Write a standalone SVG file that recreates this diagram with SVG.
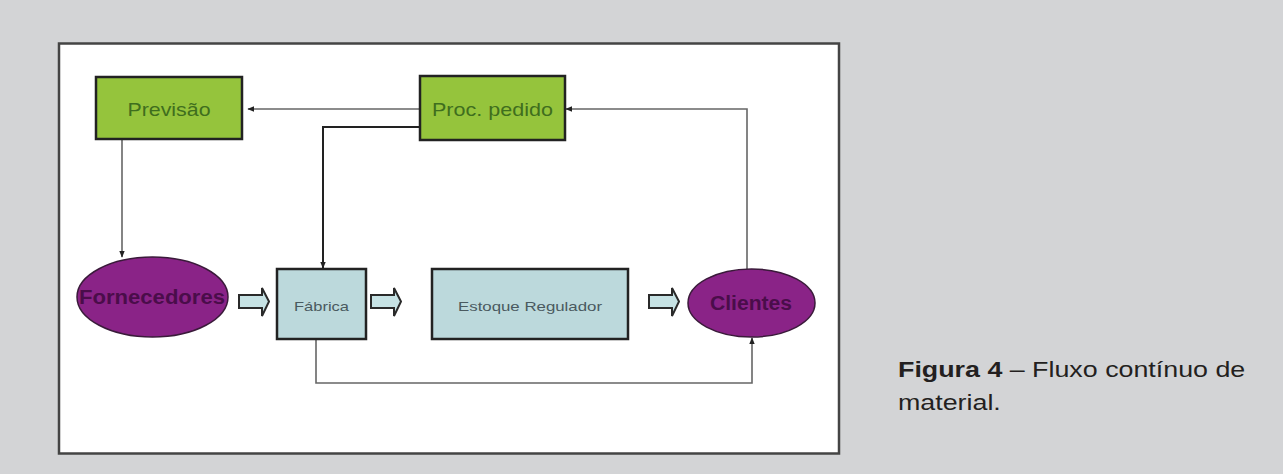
<svg xmlns="http://www.w3.org/2000/svg" width="1283" height="474" viewBox="0 0 1283 474">
<style>
.green{fill:#95c43c;stroke:#222;stroke-width:2.5}
.blue{fill:#bcd9dc;stroke:#222;stroke-width:2.5}
.purple{fill:#8a2387;stroke:#3a1a3a;stroke-width:1.5}
.gt{font-family:"Liberation Sans",Arial,sans-serif;font-size:19px;fill:#3f6e1e}
.bt{font-family:"Liberation Sans",Arial,sans-serif;font-size:13px;fill:#4a5a60}
.pt{font-family:"Liberation Sans",Arial,sans-serif;font-size:20px;font-weight:bold;fill:#4a0d4a}
.cap{font-family:"Liberation Sans",Arial,sans-serif;font-size:22px;fill:#231f20}
.ln{fill:none;stroke:#666;stroke-width:1.6}
.dk{fill:none;stroke:#222;stroke-width:2}
.blk{fill:#c6e2e4;stroke:#2a2a2a;stroke-width:2}
</style>
<defs>
<marker id="ah" viewBox="0 0 10 10" refX="9" refY="5" markerWidth="5" markerHeight="5" orient="auto" markerUnits="userSpaceOnUse">
<path d="M0,1 L10,5 L0,9 z" fill="#222"/>
</marker>
<marker id="ahs" viewBox="0 0 10 10" refX="9" refY="5" markerWidth="7" markerHeight="7" orient="auto" markerUnits="userSpaceOnUse">
<path d="M0,1 L10,5 L0,9 z" fill="#222"/>
</marker>
</defs>
<rect x="0" y="0" width="1283" height="474" fill="#d3d4d6"/>
<rect x="59" y="43.5" width="780" height="410" fill="#ffffff" stroke="#444" stroke-width="2.5"/>

<g id="connectors">
<polyline class="ln" points="420,109 248,109" marker-end="url(#ahs)"/>
<polyline class="dk" points="420,127 323,127 323,268" marker-end="url(#ahs)"/>
<polyline class="ln" points="122,140 122,257" marker-end="url(#ahs)"/>
<polyline class="ln" stroke-width="2" points="316,340 316,383 752,383 752,338" marker-end="url(#ahs)"/>
<polyline class="ln" points="747,269 747,109 566,109" marker-end="url(#ahs)"/>
<path class="blk" d="M239,295 H262 V288 L269,301.5 L262,316 V308 H239 Z"/>
<path class="blk" d="M371,295 H394 V288 L401,301.5 L394,316 V308 H371 Z"/>
<path class="blk" d="M649,295 H672 V288 L679,301.5 L672,316 V308 H649 Z"/>
</g>

<g id="previsao">
<rect class="green" x="96" y="77" width="146" height="62"/>
<text class="gt" x="169" y="116" text-anchor="middle" textLength="83" lengthAdjust="spacingAndGlyphs">Previsão</text>
</g>
<g id="proc-pedido">
<rect class="green" x="420" y="76" width="145" height="64"/>
<text class="gt" x="492.5" y="116" text-anchor="middle" textLength="121" lengthAdjust="spacingAndGlyphs">Proc. pedido</text>
</g>
<g id="fornecedores">
<ellipse class="purple" cx="152.5" cy="297" rx="75.5" ry="40"/>
<text class="pt" x="152" y="304" text-anchor="middle" textLength="146" lengthAdjust="spacingAndGlyphs">Fornecedores</text>
</g>
<g id="fabrica">
<rect class="blue" x="277" y="269" width="89" height="70"/>
<text class="bt" x="321.5" y="311" text-anchor="middle" textLength="55" lengthAdjust="spacingAndGlyphs">Fábrica</text>
</g>
<g id="estoque">
<rect class="blue" x="432" y="269" width="196" height="70"/>
<text class="bt" x="530" y="311" text-anchor="middle" textLength="144" lengthAdjust="spacingAndGlyphs">Estoque Regulador</text>
</g>
<g id="clientes">
<ellipse class="purple" cx="751.5" cy="303" rx="63.5" ry="34"/>
<text class="pt" x="751" y="310" text-anchor="middle" textLength="82" lengthAdjust="spacingAndGlyphs">Clientes</text>
</g>

<g id="caption">
<text class="cap" transform="translate(898,377) scale(1.22,1)"><tspan font-weight="bold">Figura 4</tspan> – Fluxo contínuo de</text>
<text class="cap" transform="translate(898,410) scale(1.22,1)">material.</text>
</g>
</svg>
